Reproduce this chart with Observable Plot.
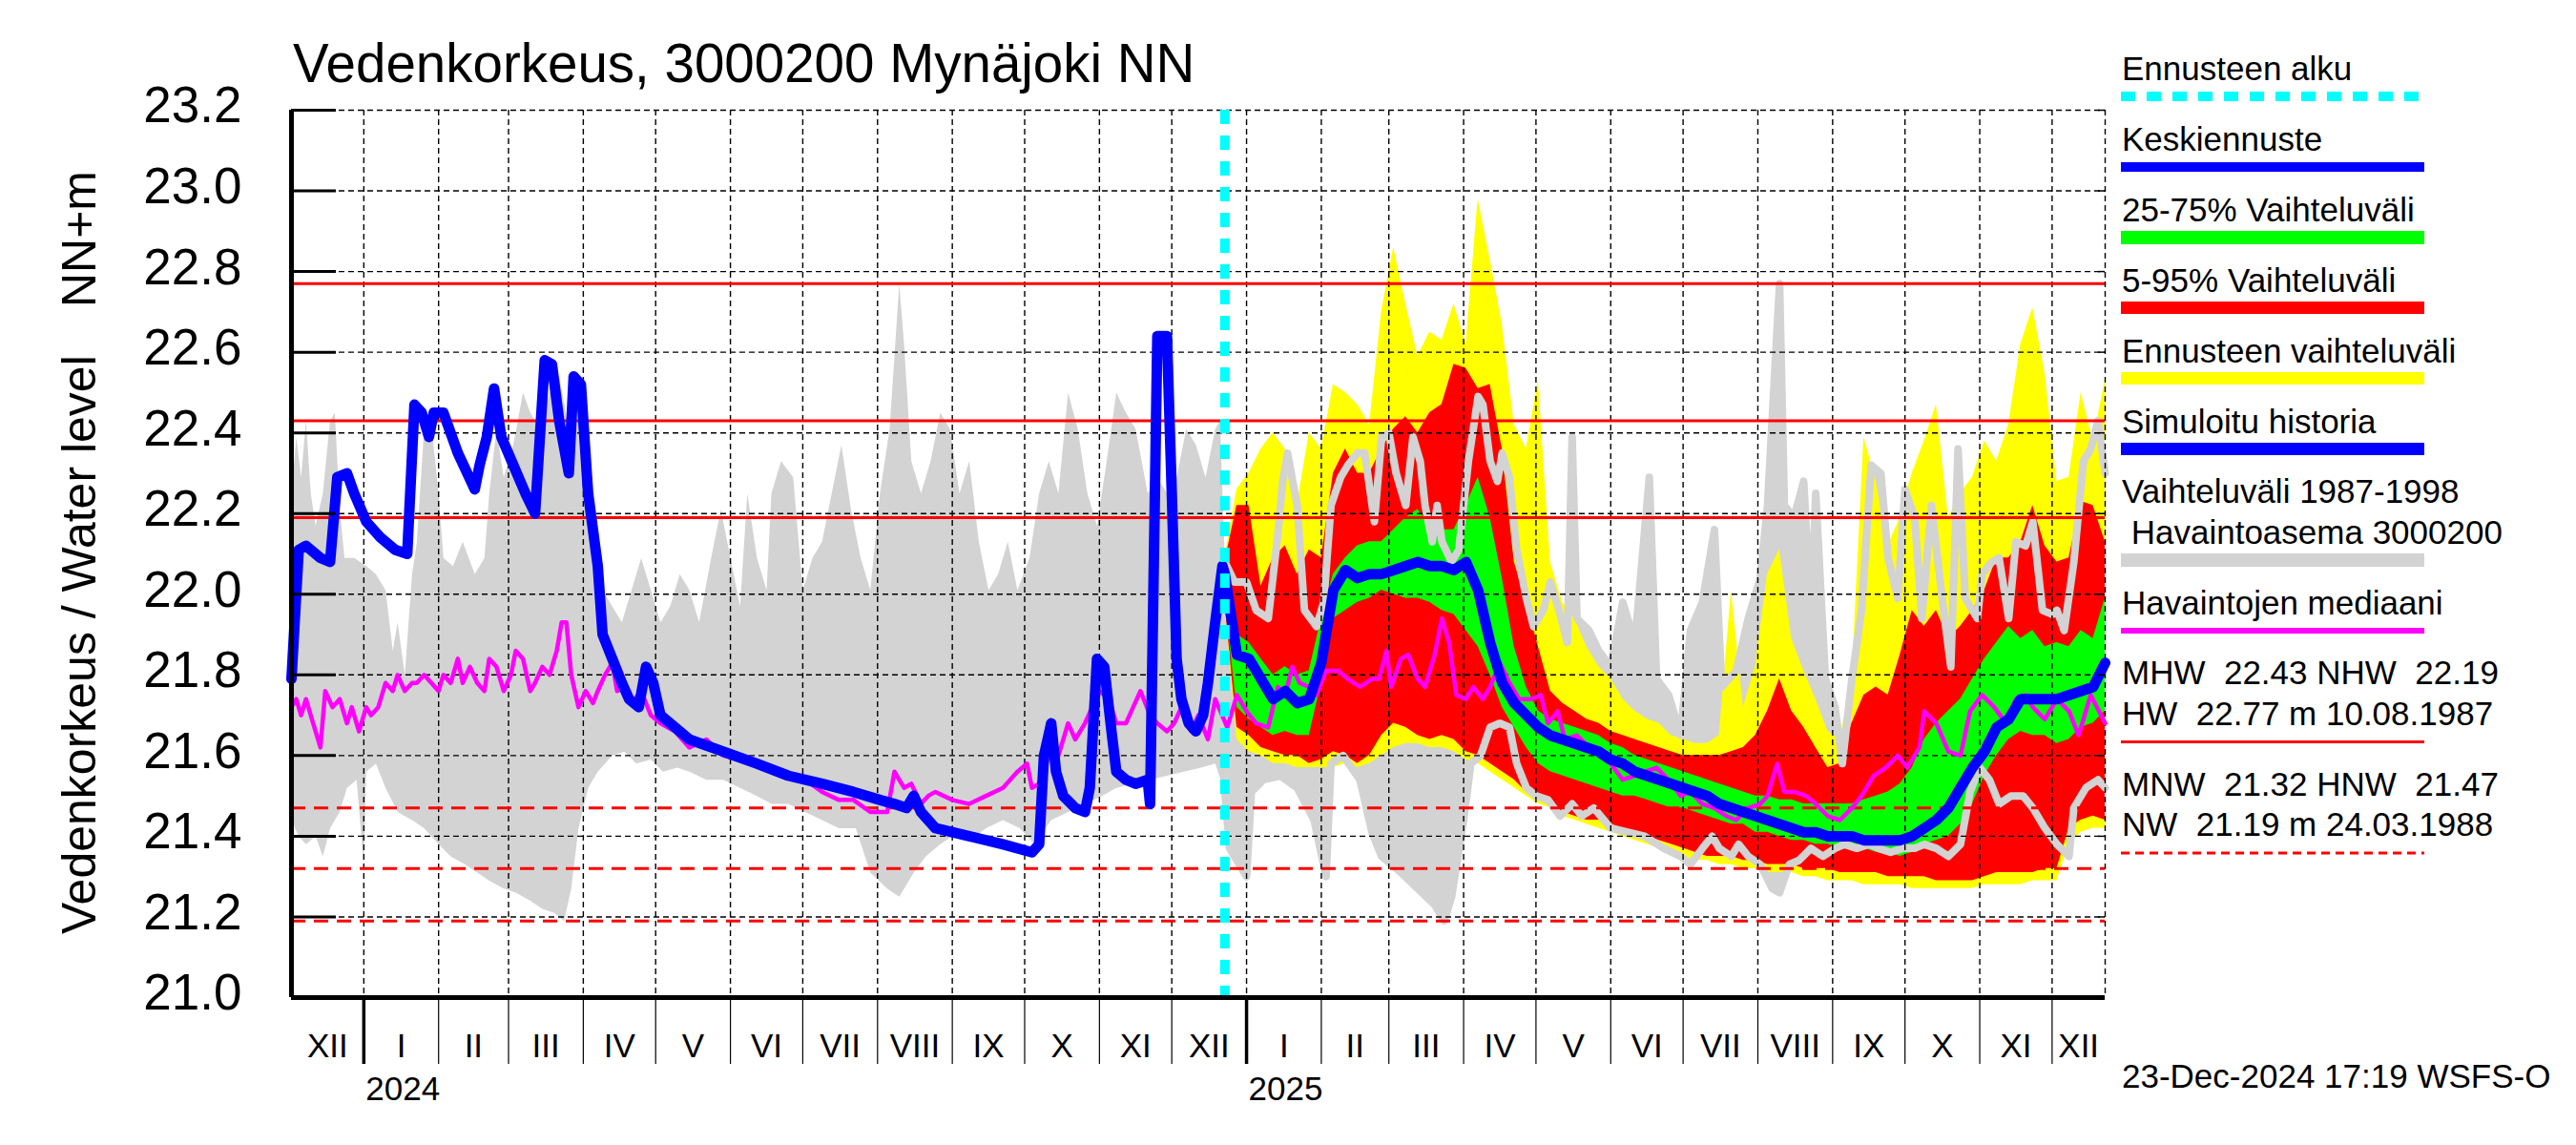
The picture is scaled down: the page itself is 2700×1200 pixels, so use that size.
<!DOCTYPE html>
<html>
<head>
<meta charset="utf-8">
<script src="https://cdn.jsdelivr.net/npm/d3@7"></script>
<script src="https://cdn.jsdelivr.net/npm/@observablehq/plot@0.6"></script>
<style>
html, body { margin: 0; padding: 0; background: #ffffff; }
#chart { width: 2700px; height: 1200px; }
</style>
</head>
<body>
<div id="chart"></div>
<script>
// ---------------- DATA (days counted from 2024-01-01) ----------------
const dayZero = "2024-01-01";

// Simuloitu historia (blue, up to forecast start)
const simDays = [-30,-27,-24,-18,-14,-11,-7,-4,1,7,13,18,21,24,27,29,33,39,46,48,51,54,57,62,67,71,75,78,81,85,87,90,93,97,99,103,107,110,114,117,120,123,127,135,149,163,176,190,203,214,220,225,228,231,237,251,265,277,280,282,285,287,290,295,299,301,304,307,310,312,316,320,325,326,328,329,333,335,337,339,342,345,348,350,353,356];
const simLevel = [21.79,22.11,22.12,22.09,22.08,22.29,22.30,22.25,22.18,22.14,22.11,22.10,22.47,22.45,22.39,22.45,22.45,22.35,22.26,22.32,22.39,22.51,22.39,22.32,22.25,22.20,22.58,22.57,22.43,22.30,22.54,22.52,22.25,22.07,21.90,21.84,21.78,21.74,21.72,21.82,21.78,21.70,21.68,21.64,21.61,21.58,21.55,21.53,21.51,21.49,21.48,21.47,21.50,21.46,21.42,21.40,21.38,21.36,21.38,21.60,21.68,21.56,21.50,21.47,21.46,21.52,21.84,21.82,21.66,21.56,21.54,21.53,21.54,21.48,22.25,22.64,22.64,22.25,21.84,21.74,21.68,21.66,21.70,21.78,21.93,22.07];

// Forecast (from 2024-12-23)
const fcDays = [357,362,367,372,377,382,387,392,397,402,407,412,417,422,427,432,437,442,447,452,457,462,467,472,477,482,487,492,497,502,507,512,517,522,527,532,537,542,547,552,557,562,567,572,577,582,587,592,597,602,607,612,617,622,627,632,637,642,647,652,657,662,667,672,677,682,687,692,697,702,707,712,717,722];
const fcMean = [22.05,21.85,21.84,21.79,21.74,21.76,21.73,21.74,21.83,22.01,22.06,22.04,22.05,22.05,22.06,22.07,22.08,22.07,22.07,22.06,22.08,22.01,21.88,21.78,21.73,21.70,21.67,21.65,21.64,21.63,21.62,21.61,21.59,21.58,21.56,21.55,21.54,21.53,21.52,21.51,21.50,21.48,21.47,21.46,21.45,21.44,21.43,21.42,21.41,21.41,21.40,21.40,21.40,21.39,21.39,21.39,21.39,21.40,21.42,21.44,21.47,21.52,21.57,21.61,21.67,21.69,21.74,21.74,21.74,21.74,21.75,21.76,21.77,21.83];
const fcP25 = [21.99,21.72,21.69,21.67,21.65,21.66,21.65,21.65,21.78,21.94,21.96,21.98,21.99,22.01,22.00,21.99,21.99,21.98,21.96,21.95,21.91,21.87,21.80,21.72,21.67,21.62,21.58,21.56,21.55,21.54,21.53,21.52,21.51,21.50,21.50,21.49,21.48,21.47,21.47,21.46,21.45,21.44,21.43,21.43,21.41,21.41,21.40,21.39,21.39,21.38,21.38,21.37,21.37,21.37,21.36,21.36,21.35,21.36,21.38,21.39,21.40,21.43,21.48,21.55,21.60,21.64,21.66,21.65,21.65,21.63,21.64,21.67,21.68,21.71];
const fcP75 = [22.07,21.90,21.88,21.84,21.80,21.82,21.80,21.81,21.94,22.05,22.09,22.12,22.13,22.13,22.16,22.19,22.21,22.17,22.16,22.16,22.22,22.29,22.19,22.04,21.87,21.77,21.71,21.69,21.68,21.67,21.66,21.65,21.63,21.62,21.60,21.59,21.58,21.57,21.56,21.55,21.54,21.53,21.52,21.51,21.50,21.50,21.49,21.49,21.48,21.48,21.48,21.48,21.48,21.49,21.50,21.51,21.53,21.57,21.64,21.68,21.71,21.74,21.79,21.84,21.88,21.92,21.89,21.91,21.87,21.88,21.87,21.91,21.89,21.99];
const fcP05 = [21.98,21.67,21.65,21.62,21.61,21.60,21.60,21.58,21.59,21.61,21.60,21.58,21.60,21.65,21.68,21.67,21.65,21.64,21.65,21.64,21.61,21.60,21.58,21.56,21.54,21.51,21.50,21.48,21.46,21.45,21.44,21.44,21.43,21.42,21.41,21.40,21.39,21.38,21.37,21.36,21.35,21.35,21.35,21.34,21.34,21.33,21.33,21.33,21.32,21.32,21.32,21.31,21.31,21.31,21.31,21.30,21.30,21.30,21.30,21.29,21.29,21.29,21.29,21.30,21.31,21.31,21.31,21.31,21.32,21.32,21.42,21.44,21.45,21.44];
const fcP95 = [22.08,22.22,22.22,22.02,22.09,22.12,22.05,22.11,22.09,22.30,22.36,22.30,22.30,22.36,22.41,22.44,22.40,22.45,22.47,22.57,22.56,22.51,22.52,22.36,22.08,21.98,21.87,21.76,21.73,21.71,21.69,21.68,21.66,21.65,21.64,21.63,21.62,21.61,21.60,21.60,21.60,21.60,21.61,21.62,21.65,21.71,21.79,21.71,21.67,21.62,21.57,21.58,21.68,21.75,21.77,21.75,21.85,21.96,21.92,21.96,21.89,21.92,21.96,22.01,22.09,22.09,22.13,22.22,22.12,22.08,22.09,22.23,22.22,22.13];
const fcMin = [21.97,21.64,21.61,21.60,21.58,21.58,21.57,21.57,21.57,21.57,21.58,21.57,21.58,21.60,21.62,21.63,21.63,21.62,21.62,21.61,21.59,21.58,21.56,21.54,21.52,21.50,21.48,21.47,21.45,21.44,21.43,21.42,21.41,21.40,21.39,21.38,21.37,21.36,21.35,21.34,21.34,21.33,21.33,21.32,21.32,21.31,21.31,21.31,21.30,21.30,21.29,21.29,21.29,21.28,21.28,21.28,21.28,21.27,21.27,21.27,21.27,21.27,21.27,21.28,21.28,21.28,21.28,21.29,21.29,21.29,21.38,21.41,21.42,21.42];
const fcMax = [22.09,22.26,22.30,22.36,22.40,22.36,22.22,22.40,22.36,22.52,22.50,22.47,22.42,22.70,22.86,22.72,22.59,22.65,22.63,22.72,22.62,22.98,22.83,22.67,22.42,22.36,22.53,22.08,21.98,21.94,21.87,21.82,21.79,21.74,21.71,21.69,21.68,21.65,21.64,21.63,21.63,21.65,22.01,21.72,21.82,22.05,22.11,21.89,21.81,21.74,21.66,21.64,21.79,22.39,22.28,22.12,22.19,22.30,22.38,22.47,22.19,22.25,22.29,22.38,22.33,22.42,22.62,22.71,22.55,22.28,22.29,22.50,22.38,22.53];

// Vaihteluväli 1987-1998, havaintoasema 3000200 (grey band)
const obsMaxDays = [-30,-28,-26,-24,-22,-20,-17,-14,-12,-10,-8,-4,1,5,9,12,14,17,20,22,25,28,31,33,37,41,46,50,52,55,58,62,66,69,73,77,81,85,88,90,93,96,99,103,107,111,115,119,123,127,131,135,139,144,148,152,156,159,163,167,169,173,178,182,186,190,194,198,202,206,210,214,218,222,224,227,231,235,239,243,247,251,255,259,263,267,271,276,280,284,288,292,296,300,304,308,312,316,320,325,329,333,337,341,345,349,353,355,
  357,361,366,370,375,379,381,383,387,390,395,398,401,405,408,412,415,419,422,425,428,432,435,438,440,443,445,447,451,454,458,462,464,467,470,472,475,478,482,485,489,492,496,499,501,503,508,512,517,522,527,533,536,541,546,550,555,560,563,569,574,579,582,587,589,593,597,600,602,606,610,613,617,621,625,629,632,636,639,643,646,650,655,658,661,664,669,671,675,678,682,685,689,692,696,700,702,705,709,713,716,719,722];
const obsMax = [22.25,22.39,22.29,22.43,22.25,22.17,22.25,22.43,22.45,22.21,22.09,22.09,22.07,22.05,22.01,21.86,21.93,21.80,22.05,22.13,22.41,22.42,22.25,22.09,22.07,22.13,22.05,22.09,22.25,22.41,22.29,22.37,22.50,22.45,22.41,22.50,22.54,22.41,22.50,22.47,22.29,22.13,22.01,21.97,21.93,22.01,22.09,22.01,21.93,21.97,22.05,22.01,21.93,22.09,22.21,22.09,21.97,22.25,22.09,22.01,22.25,22.33,22.29,22.01,22.09,22.13,22.25,22.37,22.21,22.09,22.01,22.25,22.41,22.77,22.62,22.33,22.25,22.33,22.45,22.41,22.25,22.33,22.13,22.01,22.05,22.13,22.01,22.09,22.25,22.33,22.25,22.50,22.41,22.25,22.17,22.33,22.50,22.45,22.41,22.25,22.29,22.25,22.29,22.41,22.37,22.29,22.41,22.43,
  22.08,22.03,22.03,21.96,21.94,22.15,22.28,22.35,22.22,21.96,21.92,21.98,22.22,22.29,22.32,22.35,22.35,22.18,22.39,22.40,22.30,22.22,22.39,22.33,22.22,22.13,22.22,22.13,22.08,22.11,22.33,22.49,22.47,22.33,22.28,22.35,22.29,22.11,21.99,21.92,21.96,22.03,21.95,21.88,22.39,21.94,21.91,21.86,21.82,21.98,21.88,22.29,21.79,21.75,21.65,21.91,21.98,22.16,21.77,21.81,21.94,22.04,22.22,22.77,22.22,22.19,22.28,21.94,22.25,21.79,21.72,21.58,21.79,21.96,22.32,22.30,22.09,21.99,22.26,22.19,21.94,22.22,21.96,21.82,22.36,21.99,21.94,22.05,22.08,22.09,21.94,22.13,22.12,22.18,21.96,21.95,21.96,21.91,22.08,22.33,22.36,22.43,22.30];
const obsMinDays = [-30,-27,-24,-20,-17,-14,-10,-7,-3,0,1,5,9,14,20,25,31,36,42,47,52,58,63,69,74,79,83,86,89,93,97,103,108,113,119,124,130,135,142,149,156,163,169,176,183,190,197,204,210,217,222,228,233,239,244,251,258,265,272,278,285,292,299,306,312,319,326,333,340,347,353,
  357,359,366,368,373,380,387,394,399,401,406,413,418,422,430,437,444,448,451,456,459,463,467,471,475,478,482,486,491,496,501,505,510,517,524,531,539,546,550,555,559,562,567,570,574,579,584,587,591,595,600,605,610,614,619,624,628,633,638,643,647,652,657,662,666,670,674,678,683,688,692,697,702,707,709,714,719,722];
const obsMin = [21.44,21.40,21.38,21.40,21.35,21.42,21.46,21.52,21.54,21.33,21.56,21.58,21.52,21.46,21.44,21.42,21.38,21.35,21.33,21.31,21.29,21.27,21.26,21.24,21.22,21.21,21.19,21.27,21.42,21.52,21.56,21.60,21.61,21.58,21.59,21.56,21.57,21.56,21.54,21.54,21.52,21.50,21.48,21.48,21.46,21.44,21.42,21.42,21.31,21.27,21.25,21.31,21.35,21.38,21.40,21.39,21.42,21.44,21.42,21.38,21.44,21.46,21.48,21.50,21.52,21.53,21.54,21.55,21.56,21.57,21.58,
  21.51,21.37,21.30,21.51,21.54,21.55,21.52,21.44,21.30,21.58,21.60,21.54,21.41,21.35,21.31,21.27,21.23,21.19,21.25,21.44,21.58,21.60,21.67,21.68,21.67,21.58,21.52,21.50,21.49,21.45,21.48,21.45,21.47,21.42,21.41,21.40,21.37,21.35,21.33,21.37,21.40,21.37,21.35,21.38,21.35,21.33,21.27,21.26,21.33,21.34,21.37,21.35,21.37,21.38,21.37,21.38,21.37,21.36,21.37,21.37,21.38,21.37,21.35,21.38,21.51,21.57,21.54,21.48,21.50,21.50,21.47,21.42,21.38,21.35,21.47,21.52,21.54,21.52];

// Havaintojen mediaani (magenta)
const medDays = [-30,-28,-26,-24,-21,-18,-16,-13,-10,-7,-5,-2,1,3,6,9,12,14,17,20,22,25,28,31,33,36,39,41,44,47,50,52,55,58,61,63,66,69,71,74,77,80,82,84,86,89,92,95,97,100,103,105,108,111,115,119,123,129,135,142,149,156,163,169,176,183,190,197,203,210,217,220,224,227,231,234,237,244,251,258,265,271,275,277,280,282,285,288,292,295,299,302,305,309,312,316,319,322,326,329,333,336,339,343,346,350,353,
  358,362,366,370,375,379,382,385,388,392,395,399,404,408,413,418,421,424,426,430,433,437,440,444,447,450,453,457,460,464,467,471,475,479,484,488,491,495,498,503,508,512,517,522,527,531,536,541,546,550,555,560,565,569,574,579,582,586,589,593,598,602,607,612,617,621,626,631,636,640,645,647,652,657,662,666,671,676,681,685,689,692,697,702,707,711,716,722];
const medLevel = [21.72,21.74,21.70,21.74,21.68,21.62,21.76,21.72,21.74,21.68,21.72,21.66,21.72,21.70,21.72,21.78,21.76,21.80,21.76,21.78,21.78,21.80,21.78,21.76,21.80,21.78,21.84,21.78,21.82,21.78,21.76,21.84,21.82,21.76,21.80,21.86,21.84,21.76,21.78,21.82,21.80,21.86,21.93,21.93,21.80,21.72,21.76,21.73,21.76,21.80,21.83,21.76,21.77,21.73,21.76,21.70,21.68,21.66,21.62,21.64,21.60,21.59,21.58,21.56,21.55,21.54,21.51,21.49,21.49,21.46,21.46,21.56,21.52,21.53,21.48,21.50,21.51,21.49,21.48,21.50,21.52,21.56,21.58,21.52,21.53,21.56,21.62,21.60,21.68,21.64,21.68,21.72,21.76,21.74,21.68,21.68,21.72,21.76,21.70,21.68,21.66,21.68,21.72,21.66,21.70,21.64,21.74,
  21.67,21.75,21.71,21.68,21.67,21.77,21.75,21.82,21.78,21.77,21.75,21.81,21.81,21.79,21.77,21.79,21.79,21.86,21.77,21.84,21.85,21.79,21.77,21.85,21.94,21.88,21.75,21.74,21.77,21.74,21.77,21.83,21.78,21.74,21.74,21.75,21.68,21.71,21.64,21.65,21.62,21.60,21.58,21.54,21.55,21.56,21.57,21.54,21.50,21.51,21.48,21.47,21.45,21.44,21.47,21.48,21.50,21.58,21.51,21.51,21.50,21.48,21.45,21.44,21.47,21.50,21.55,21.57,21.60,21.57,21.62,21.71,21.68,21.61,21.60,21.71,21.75,21.72,21.68,21.74,21.75,21.72,21.69,21.74,21.71,21.65,21.75,21.68];

// Reference levels
const refHigh = [22.77, 22.43, 22.19];   // HW, MHW, NHW
const refLow = [21.47, 21.32, 21.19];    // HNW, MNW, NW
const yTicks = [21.0,21.2,21.4,21.6,21.8,22.0,22.2,22.4,22.6,22.8,23.0,23.2];
const monthNames = ["I","II","III","IV","V","VI","VII","VIII","IX","X","XI","XII"];
const yearLabels = [{day: 0, label: "2024"}, {day: 366, label: "2025"}];

// ---------------- BUILD ----------------
const T0 = Date.UTC(2024, 0, 1);
const toDate = d => new Date(T0 + d * 864e5);
const domainStart = toDate(-30), domainEnd = toDate(722), forecastStart = toDate(357);

const sim = simDays.map((d, i) => ({date: toDate(d), v: simLevel[i]}));
const fc = fcDays.map((d, i) => ({date: toDate(d), mean: fcMean[i], p25: fcP25[i], p75: fcP75[i],
  p05: fcP05[i], p95: fcP95[i], min: fcMin[i], max: fcMax[i]}));
const blueLine = sim.concat(fc.map(r => ({date: r.date, v: r.mean})));
const obsMaxRows = obsMaxDays.map((d, i) => ({day: d, date: toDate(d), v: obsMax[i]}));
const obsMinRows = obsMinDays.map((d, i) => ({day: d, date: toDate(d), v: obsMin[i]}));
const grayPoly = obsMaxRows.concat(obsMinRows.slice().reverse());
const med = medDays.map((d, i) => ({date: toDate(d), v: medLevel[i]}));

const monthStarts = d3.utcMonths(domainStart, domainEnd);
const yearStarts = yearLabels.map(y => toDate(y.day));
const monthLabels = d3.utcMonths(d3.utcMonth.floor(domainStart), domainEnd).map(m => {
  const s = Math.max(+m, +domainStart), e = Math.min(+d3.utcMonth.offset(m, 1), +domainEnd);
  return {date: new Date((s + e) / 2), label: monthNames[m.getUTCMonth()]};
});

const W = 2700, H = 1200, mL = 305, mR = 494, mT = 115, mB = 155;
const plotW = W - mL - mR;
const grid = {stroke: "#000", strokeWidth: 1.4, strokeDasharray: "6,4"};

const svg = Plot.plot({
  width: W, height: H,
  marginLeft: mL, marginRight: mR, marginTop: mT, marginBottom: mB,
  style: {fontFamily: "'Liberation Sans', Arial, Helvetica, sans-serif", background: "#ffffff", color: "#000"},
  x: {type: "utc", domain: [domainStart, domainEnd], axis: null},
  y: {domain: [21.0, 23.2], axis: null},
  marks: [
    // historical range (grey)
    Plot.line(grayPoly, {x: "date", y: "v", fill: "#d3d3d3", stroke: "none"}),
    // forecast ranges
    Plot.areaY(fc, {x: "date", y1: "min", y2: "max", fill: "#ffff00"}),
    Plot.areaY(fc, {x: "date", y1: "p05", y2: "p95", fill: "#ff0000"}),
    Plot.areaY(fc, {x: "date", y1: "p25", y2: "p75", fill: "#00ff00"}),
    // grey range edges drawn over forecast
    Plot.line(obsMaxRows.filter(r => r.day >= 357), {x: "date", y: "v", stroke: "#d3d3d3", strokeWidth: 8}),
    Plot.line(obsMinRows.filter(r => r.day >= 357), {x: "date", y: "v", stroke: "#d3d3d3", strokeWidth: 8}),
    // grid
    Plot.ruleX(monthStarts, grid),
    Plot.ruleX([domainEnd], grid),
    Plot.ruleY(yTicks.slice(1), grid),
    // reference lines
    Plot.ruleY(refHigh, {stroke: "#ff0000", strokeWidth: 3}),
    Plot.ruleY(refLow, {stroke: "#ff0000", strokeWidth: 3, strokeDasharray: "15,9"}),
    // median
    Plot.line(med, {x: "date", y: "v", stroke: "#ff00ff", strokeWidth: 4.5}),
    // simulated history + mean forecast
    Plot.line(blueLine, {x: "date", y: "v", stroke: "#0000ff", strokeWidth: 11}),
    // forecast start
    Plot.ruleX([forecastStart], {stroke: "#00ffff", strokeWidth: 10, strokeDasharray: "15,12"}),
    // frame
    Plot.ruleX([domainStart], {stroke: "#000", strokeWidth: 5}),
    Plot.ruleY([21.0], {stroke: "#000", strokeWidth: 5}),
    Plot.tickY(yTicks, {stroke: "#000", strokeWidth: 3, insetRight: plotW - 47}),
    Plot.tickY(yTicks, {stroke: "#000", strokeWidth: 1.5, insetLeft: plotW - 7}),
    // axes
    Plot.axisY(yTicks, {anchor: "left", tickSize: 0, tickPadding: 52, tickFormat: d3.format(".1f"), fontSize: 53, label: null, dy: -4}),
    Plot.axisX(monthStarts, {anchor: "bottom", tickSize: 70, tickFormat: () => "", strokeWidth: 1.2, label: null}),
    Plot.axisX(yearStarts, {anchor: "bottom", tickSize: 70, tickFormat: () => "", strokeWidth: 3.5, label: null}),
    Plot.text(monthLabels, {x: "date", text: "label", frameAnchor: "bottom", dy: 62, fontSize: 35, fill: "#000"}),
    Plot.text(yearLabels, {x: d => toDate(d.day), text: "label", frameAnchor: "bottom", dy: 107, dx: 2, textAnchor: "start", fontSize: 35, fill: "#000"})
  ]
});

document.getElementById("chart").appendChild(svg);

// ---------------- TITLES AND LEGEND ----------------
const root = d3.select(svg).append("g")
  .attr("font-family", "'Liberation Sans', Arial, Helvetica, sans-serif")
  .attr("text-anchor", "start")
  .attr("fill", "#000");

root.append("text").attr("x", 307).attr("y", 86).attr("font-size", 56.5)
  .attr("text-anchor", "start")
  .text("Vedenkorkeus, 3000200 Mynäjoki NN");

root.append("text").attr("transform", "translate(100,979) rotate(-90)").attr("font-size", 50)
  .attr("text-anchor", "start").text("Vedenkorkeus / Water level");
root.append("text").attr("transform", "translate(100,179) rotate(-90)").attr("font-size", 50)
  .attr("text-anchor", "end").text("NN+m");

root.append("text").attr("x", 2224).attr("y", 1140).attr("font-size", 35)
  .attr("text-anchor", "start")
  .text("23-Dec-2024 17:19 WSFS-O");

const legend = [
  {t: "Ennusteen alku", y: 84, by: 101, bw: 10, c: "#00ffff", dash: "15,12"},
  {t: "Keskiennuste", y: 158, by: 175, bw: 10, c: "#0000ff"},
  {t: "25-75% Vaihteluväli", y: 232, by: 249, bw: 14, c: "#00ff00"},
  {t: "5-95% Vaihteluväli", y: 306, by: 322.5, bw: 13, c: "#ff0000"},
  {t: "Ennusteen vaihteluväli", y: 380, by: 396.5, bw: 13, c: "#ffff00"},
  {t: "Simuloitu historia", y: 454, by: 470.5, bw: 13, c: "#0000ff"},
  {t: "Vaihteluväli 1987-1998", y: 527},
  {t: " Havaintoasema 3000200", y: 570, by: 587, bw: 14, c: "#d3d3d3"},
  {t: "Havaintojen mediaani", y: 644, by: 661, bw: 6, c: "#ff00ff"},
  {t: "MHW  22.43 NHW  22.19", y: 717},
  {t: "HW  22.77 m 10.08.1987", y: 760, by: 777.5, bw: 3, c: "#ff0000"},
  {t: "MNW  21.32 HNW  21.47", y: 834},
  {t: "NW  21.19 m 24.03.1988", y: 876, by: 894, bw: 3, c: "#ff0000", dash: "9,6"}
];
legend.forEach(it => {
  root.append("text").attr("x", 2224).attr("y", it.y).attr("font-size", 35)
    .attr("text-anchor", "start")
    .style("white-space", "pre").attr("xml:space", "preserve").text(it.t);
  if (it.c) {
    const l = root.append("line").attr("x1", 2223).attr("x2", 2541)
      .attr("y1", it.by).attr("y2", it.by)
      .attr("stroke", it.c).attr("stroke-width", it.bw);
    if (it.dash) l.attr("stroke-dasharray", it.dash);
  }
});
</script>
</body>
</html>
